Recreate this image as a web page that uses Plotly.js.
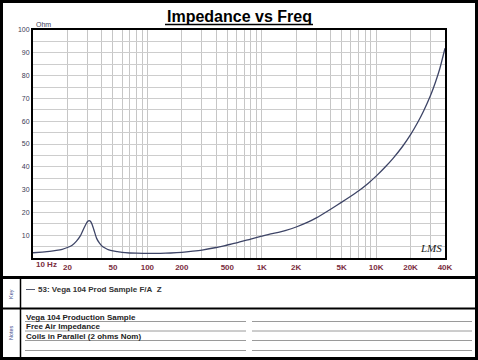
<!DOCTYPE html>
<html>
<head>
<meta charset="utf-8">
<script src="https://cdn.plot.ly/plotly-3.0.1.min.js"></script>
<style>
html,body{margin:0;padding:0;background:#fff;}
#chart{width:478px;height:360px;}
</style>
</head>
<body>
<div id="chart"></div>
<script>
// ---- data ----
var freqHz = [10,12,14,16,18,20,22,24,26,28,29,30,31,32,33,34,36,38,40,43,46,50,55,60,70,80,100,130,160,200,250,300,400,500,600,800,1000,1200,1400,1600,2000,2500,3000,4000,5000,6000,7000,8500,10000,12000,14000,17000,20000,23000,26000,30000,33000,36000,40000];
var impedanceOhm = [2.3,2.6,2.9,3.3,3.8,4.6,5.6,7.4,9.8,13.3,14.8,16.0,16.4,15.9,14.5,12.5,8.6,6.6,5.3,4.3,3.6,3.1,2.75,2.45,2.2,2.1,2.0,2.05,2.2,2.5,3.0,3.5,4.6,5.7,6.6,8.3,9.6,10.6,11.2,12.0,13.6,15.6,17.6,21.4,24.5,27.1,29.4,32.7,35.9,39.9,43.6,48.9,54.1,59.3,64.5,71.5,77.1,83.0,92];
var xGridVals = [10,20,30,40,50,60,70,80,90,100,200,300,400,500,600,700,800,900,1000,2000,3000,4000,5000,6000,7000,8000,9000,10000,20000,30000,40000];
var xLabelMap = {20:'20',50:'50',100:'100',200:'200',500:'500',1000:'1K',2000:'2K',5000:'5K',10000:'10K',20000:'20K',40000:'40K'};
var yGridVals = [0,5,10,15,20,25,30,35,40,45,50,55,60,65,70,75,80,85,90,95,100];
var seriesName = '53: Vega 104 Prod Sample F/A\u00a0 Z';
var noteLines = ['Vega 104 Production Sample','Free Air Impedance','Coils in Parallel (2 ohms Nom)'];
var chartTitle = 'Impedance vs Freq';

// ---- geometry helpers (pixel -> paper) ----
var W = 478, H = 360, L = 33, R = 33, T = 30, B = 102;
var PW = W - L - R, PH = H - T - B;
function px(x){ return (x - L) / PW; }
function py(y){ return (H - B - y) / PH; }

var xText = xGridVals.map(function(v){ return xLabelMap[v] ? '<b>' + xLabelMap[v] + '</b>' : ''; });
var yText = yGridVals.map(function(v){ return (v % 10 === 0 && v > 0) ? String(v) : ''; });

var trace = {
  x: freqHz, y: impedanceOhm, type: 'scatter', mode: 'lines',
  line: {color: '#3d4466', width: 1.3, shape: 'spline', smoothing: 0.6},
  name: seriesName, showlegend: false, hoverinfo: 'skip'
};

var shapes = [];
function seg(x0,y0,x1,y1,color,width){
  shapes.push({type:'line', xref:'paper', yref:'paper', x0:px(x0), y0:py(y0), x1:px(x1), y1:py(y1), line:{color:color, width:width}});
}
// outer frame
shapes.push({type:'rect', xref:'paper', yref:'paper', x0:px(1.5), y0:py(1.5), x1:px(476.5), y1:py(358.5), line:{color:'#000', width:3}});
// separators
seg(0,277.5,478,277.5,'#000',3);
seg(0,308.5,478,308.5,'#000',2);
seg(20.5,277,20.5,358,'#000',1.5);
// key line sample
seg(26,289.5,35,289.5,'#555a70',1);
// notes lines
[321.5,331,340.5,350.5].forEach(function(y){
  seg(25,y,246,y,'#9a9a9a',1);
  seg(252,y,472,y,'#9a9a9a',1);
});
// title underline
seg(165,24.5,313,24.5,'#000',1.6);

var ff = 'Liberation Sans, Arial, sans-serif';
var annotations = [
  {text:'<b>' + chartTitle + '</b>', x:px(239), y:py(16.5), xanchor:'center', yanchor:'middle', font:{family:ff, size:16, color:'#000'}},
  {text:'Ohm', x:px(35), y:py(24.5), xanchor:'left', yanchor:'middle', font:{family:ff, size:7, color:'#3b3b55'}},
  {text:'<b>10 Hz</b>', x:px(35), y:py(264.5), xanchor:'left', yanchor:'middle', font:{family:ff, size:8, color:'#7b2d3e'}},
  {text:'<i>LMS</i>', x:px(431), y:py(248), xanchor:'center', yanchor:'middle', font:{family:'Liberation Serif, serif', size:11, color:'#222'}},
  {text:'Key', x:px(11), y:py(294), xanchor:'center', yanchor:'middle', textangle:-90, font:{family:ff, size:5.5, color:'#3a4a8a'}},
  {text:'Notes', x:px(11), y:py(333), xanchor:'center', yanchor:'middle', textangle:-90, font:{family:ff, size:5.5, color:'#3a4a8a'}},
  {text:'<b>' + seriesName + '</b>', x:px(37), y:py(289.5), xanchor:'left', yanchor:'middle', font:{family:ff, size:8, color:'#333'}}
];
noteLines.forEach(function(t,i){
  annotations.push({text:'<b>' + t + '</b>', x:px(25), y:py(317 + i*9.5), xanchor:'left', yanchor:'middle', font:{family:ff, size:8, color:'#222'}});
});
annotations.forEach(function(a){ a.xref='paper'; a.yref='paper'; a.showarrow=false; a.borderpad=0; });

var layout = {
  width: W, height: H,
  margin: {l:L, r:R, t:T, b:B, pad:0},
  paper_bgcolor: '#fff', plot_bgcolor: '#fff',
  font: {family: ff},
  showlegend: false,
  xaxis: {
    type:'log', range:[1, Math.log10(40000)],
    tickmode:'array', tickvals:xGridVals, ticktext:xText,
    showgrid:true, gridcolor:'#c6c6c6', gridwidth:1,
    showline:true, linecolor:'#000', linewidth:2, mirror:true,
    ticks:'', zeroline:false,
    tickfont:{family:ff, size:8, color:'#7b2d3e'}
  },
  yaxis: {
    range:[0,100],
    tickmode:'array', tickvals:yGridVals, ticktext:yText,
    showgrid:true, gridcolor:'#cdcdcd', gridwidth:1,
    showline:true, linecolor:'#000', linewidth:2, mirror:true,
    ticks:'', zeroline:false,
    tickfont:{family:ff, size:7, color:'#3b3b55'}
  },
  shapes: shapes,
  annotations: annotations
};

Plotly.newPlot('chart', [trace], layout, {staticPlot:true, displayModeBar:false});
</script>
</body>
</html>
